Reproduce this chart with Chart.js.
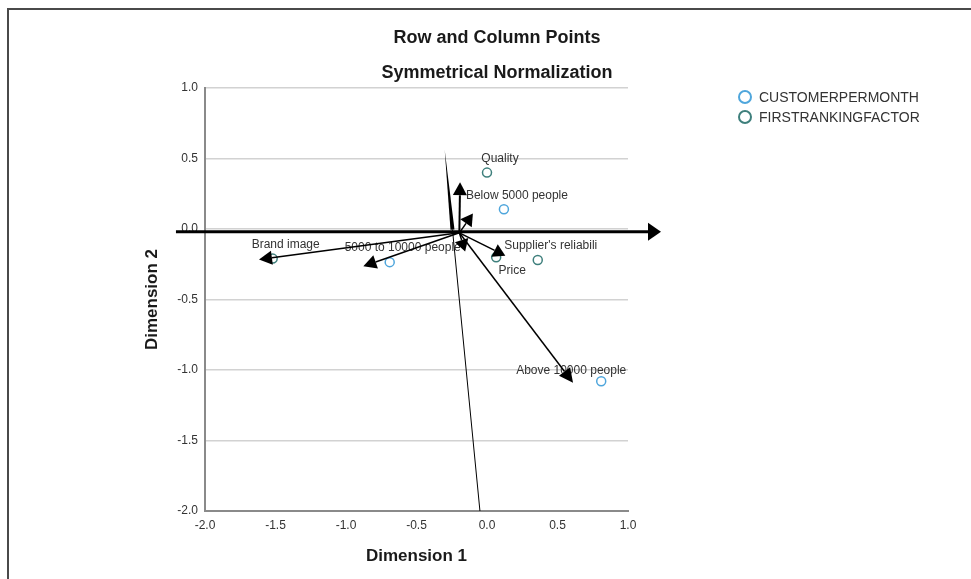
<!DOCTYPE html>
<html>
<head>
<meta charset="utf-8">
<script src="https://cdn.jsdelivr.net/npm/chart.js@4.4.1/dist/chart.umd.min.js"></script>
<style>
  html, body { margin: 0; padding: 0; background: #fff; }
  #wrap { position: relative; width: 971px; height: 579px; overflow: hidden; }
  #wrap canvas { position: absolute; left: 0; top: 0; }
  #frame { position: absolute; left: 7px; top: 8px; width: 1000px; height: 600px;
           border-top: 2px solid #4a4a4a; border-left: 2px solid #4a4a4a; pointer-events: none; }
</style>
</head>
<body>
<div id="wrap">
  <canvas id="caChart" width="971" height="579"></canvas>
  <div id="frame"></div>
</div>
<script>
// ── data ──
const customerLabels = ["Below 5000 people", "5000 to 10000 people", "Above 10000 people"];
const customerDim1 = [0.12, -0.69, 0.81];
const customerDim2 = [0.14, -0.235, -1.08];

const factorLabels = ["Quality", "Brand image", "Price", "Supplier's reliabili"];
const factorDim1 = [0.0, -1.52, 0.065, 0.36];
const factorDim2 = [0.40, -0.21, -0.20, -0.22];

const tickValues = [-2.0, -1.5, -1.0, -0.5, 0.0, 0.5, 1.0];

// arrows scribbled over the plot, in data units (from -> to)
const arrowFromX = [-0.196, -0.196, -0.196, -0.196, -0.196, -0.196, -0.196, -2.206, -0.05];
const arrowFromY = [-0.027, -0.027, -0.027, -0.027, -0.027, -0.027, -0.027, -0.02, -2.0];
const arrowToX   = [-1.617, -0.877, -0.191, -0.10, -0.155, 0.13, 0.61, 1.234, -0.30];
const arrowToY   = [-0.216, -0.264, 0.332, 0.11, -0.16, -0.19, -1.09, -0.02, 0.56];

// ── look ──
const FONT = "Arial, 'Liberation Sans', Helvetica, sans-serif";
const COLORS = { customer: '#4fa6dc', factor: '#3e7f7c', text: '#333333', dark: '#1a1a1a',
                 grid: '#d2d2d2', axis: '#8a8a8a' };
// line width, head length, head half-width for each arrow
const ARROW_STYLE = [
  [1.5, 13, 7], [1.5, 13, 7], [2, 13, 7], [1.5, 12, 7], [1.5, 12, 7],
  [1.5, 12, 7], [1.5, 14, 7], [3, 13, 9], [1, 80, 2],
];
const LABEL_SHIFT = { "Price": [16, 13], "Above 10000 people": [-30, -11] };

function drawArrow(ctx, x0, y0, x1, y1, lw, hl, hw) {
  const a = Math.atan2(y1 - y0, x1 - x0);
  const bx = x1 - hl * Math.cos(a), by = y1 - hl * Math.sin(a);
  ctx.beginPath();
  ctx.moveTo(x0, y0);
  ctx.lineTo(bx, by);
  ctx.lineWidth = lw;
  ctx.stroke();
  ctx.beginPath();
  ctx.moveTo(x1, y1);
  ctx.lineTo(bx + hw * Math.sin(a), by - hw * Math.cos(a));
  ctx.lineTo(bx - hw * Math.sin(a), by + hw * Math.cos(a));
  ctx.closePath();
  ctx.fill();
}

const overlayPlugin = {
  id: 'overlay',
  afterDatasetsDraw(chart) {
    const ctx = chart.ctx;
    ctx.save();
    ctx.font = `12px ${FONT}`;
    ctx.fillStyle = COLORS.text;
    ctx.textAlign = 'center';
    ctx.textBaseline = 'middle';
    chart.data.datasets.forEach((ds, di) => {
      chart.getDatasetMeta(di).data.forEach((pt, i) => {
        const name = ds.pointNames[i];
        const s = LABEL_SHIFT[name] || [13, -14];
        ctx.fillText(name, pt.x + s[0], pt.y + s[1]);
      });
    });
    ctx.restore();
  },
  afterDraw(chart) {
    const ctx = chart.ctx;
    const xs = chart.scales.x, ys = chart.scales.y;
    ctx.save();
    ctx.strokeStyle = '#000';
    ctx.fillStyle = '#000';
    arrowToX.forEach((_, i) => {
      const st = ARROW_STYLE[i];
      drawArrow(ctx,
        xs.getPixelForValue(arrowFromX[i]), ys.getPixelForValue(arrowFromY[i]),
        xs.getPixelForValue(arrowToX[i]), ys.getPixelForValue(arrowToY[i]),
        st[0], st[1], st[2]);
    });

    // titles
    ctx.fillStyle = COLORS.dark;
    ctx.textAlign = 'center';
    ctx.textBaseline = 'middle';
    ctx.font = `bold 18px ${FONT}`;
    ctx.fillText('Row and Column Points', 497, 38);
    ctx.fillText('Symmetrical Normalization', 497, 73);

    // legend
    ctx.font = `14px ${FONT}`;
    ctx.textAlign = 'left';
    chart.data.datasets.forEach((ds, i) => {
      const y = 97 + i * 20;
      ctx.beginPath();
      ctx.arc(745, y, 6, 0, Math.PI * 2);
      ctx.lineWidth = 2;
      ctx.strokeStyle = ds.borderColor;
      ctx.stroke();
      ctx.fillStyle = COLORS.text;
      ctx.fillText(ds.label, 759, y + 1);
    });
    ctx.restore();
  }
};

function toPoints(xv, yv) {
  return xv.map((v, i) => ({ x: v, y: yv[i] }));
}

function buildChart() {
  const ctx = document.getElementById('caChart');
  new Chart(ctx, {
    type: 'scatter',
    data: {
      datasets: [
        {
          label: 'CUSTOMERPERMONTH',
          data: toPoints(customerDim1, customerDim2),
          pointNames: customerLabels,
          borderColor: COLORS.customer,
          backgroundColor: 'rgba(0,0,0,0)',
          borderWidth: 1.5,
          pointRadius: 4.5,
        },
        {
          label: 'FIRSTRANKINGFACTOR',
          data: toPoints(factorDim1, factorDim2),
          pointNames: factorLabels,
          borderColor: COLORS.factor,
          backgroundColor: 'rgba(0,0,0,0)',
          borderWidth: 1.5,
          pointRadius: 4.5,
        },
      ]
    },
    options: {
      responsive: false,
      animation: false,
      layout: { padding: { left: 130, right: 343, top: 88, bottom: 0 } },
      plugins: {
        legend: { display: false },
        title: { display: false },
        tooltip: { enabled: false },
      },
      scales: {
        x: {
          type: 'linear', min: -2, max: 1,
          afterBuildTicks: s => { s.ticks = tickValues.map(v => ({ value: v })); },
          afterFit: s => { s.height = 68; },
          grid: { display: false, drawTicks: false },
          border: { display: true, color: COLORS.axis, width: 2 },
          ticks: { padding: 7, color: COLORS.text, autoSkip: false, maxRotation: 0,
                   font: { family: FONT, size: 12 }, callback: v => v.toFixed(1) },
          title: { display: true, text: 'Dimension 1', color: COLORS.dark,
                   font: { family: FONT, size: 17, weight: 'bold' }, padding: { top: 0, bottom: 12 } },
        },
        y: {
          type: 'linear', min: -2, max: 1,
          afterBuildTicks: s => { s.ticks = tickValues.map(v => ({ value: v })); },
          afterFit: s => { s.width = 75; },
          grid: { color: COLORS.grid, lineWidth: 1.5, drawTicks: false },
          border: { display: true, color: COLORS.axis, width: 2 },
          ticks: { padding: 7, color: COLORS.text, autoSkip: false,
                   font: { family: FONT, size: 12 }, callback: v => v.toFixed(1) },
          title: { display: true, text: 'Dimension 2', color: COLORS.dark,
                   font: { family: FONT, size: 17, weight: 'bold' }, padding: { top: 12, bottom: 0 } },
        }
      }
    },
    plugins: [overlayPlugin]
  });
}

document.addEventListener('DOMContentLoaded', buildChart);
</script>
</body>
</html>
